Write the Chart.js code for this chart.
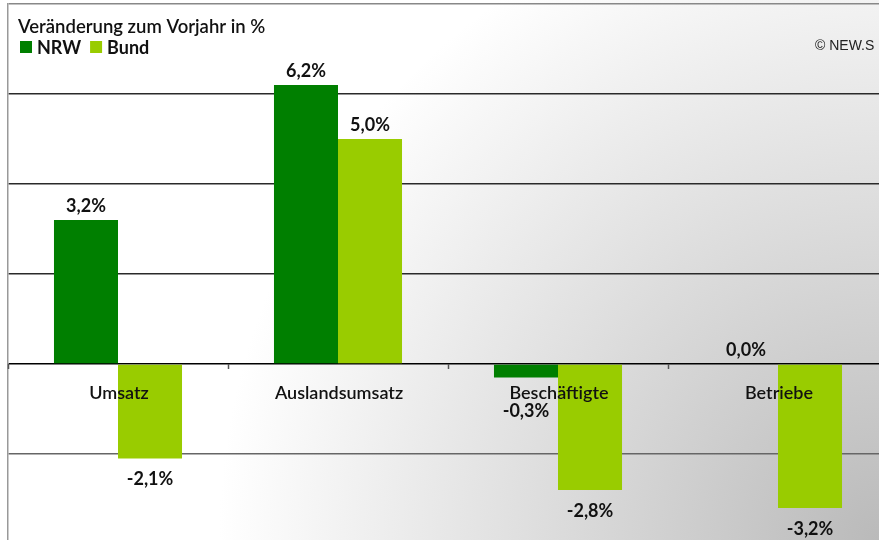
<!DOCTYPE html>
<html>
<head>
<meta charset="utf-8">
<script src="https://cdn.jsdelivr.net/npm/chart.js@4"></script>
<style>
  html, body { margin: 0; padding: 0; overflow: hidden; background: #fff; }
  #wrap { position: absolute; left: 0; top: 0; width: 888px; height: 545px; }
</style>
</head>
<body>
<div id="wrap"><canvas id="chart"></canvas></div>
<script>
const categories = ["Umsatz", "Auslandsumsatz", "Beschäftigte", "Betriebe"];
const nrwValues = [3.2, 6.2, -0.3, 0.0];
const bundValues = [-2.1, 5.0, -2.8, -3.2];
const seriesNames = ["NRW", "Bund"];
const chartTitle = "Veränderung zum Vorjahr in %";
const credit = "© NEW.S";

const FONT = "Lato, 'Open Sans', sans-serif";
const fmt = v => v.toFixed(1).replace(".", ",") + "%";

// Background: white top-left fading to grey bottom-right
const backgroundPlugin = {
  id: "bg",
  beforeDraw(chart) {
    const ctx = chart.ctx;
    ctx.save();
    ctx.fillStyle = "#fff";
    ctx.fillRect(0, 0, chart.width, chart.height);
    const g = ctx.createRadialGradient(879, 540, 0, 879, 540, 660);
    g.addColorStop(0, "#bababa");
    g.addColorStop(1, "#ffffff");
    ctx.fillStyle = g;
    ctx.fillRect(0, 0, chart.width, chart.height);
    ctx.restore();
  }
};

// Value labels, category labels and tick marks on the zero line
const labelsPlugin = {
  id: "labels",
  afterDatasetsDraw(chart) {
    const ctx = chart.ctx;
    const x = chart.scales.x;
    const zeroY = chart.scales.y.getPixelForValue(0);
    ctx.save();

    ctx.strokeStyle = "#555";
    ctx.lineWidth = 1.5;
    for (let i = 0; i < categories.length; i++) {
      const bx = Math.round(x.getPixelForValue(i) - x.width / categories.length / 2) + 0.5;
      ctx.beginPath();
      ctx.moveTo(bx, zeroY);
      ctx.lineTo(bx, zeroY + 5);
      ctx.stroke();
    }

    ctx.fillStyle = "#111";
    ctx.textAlign = "center";
    ctx.textBaseline = "middle";
    ctx.font = "600 18px " + FONT;
    categories.forEach((c, i) => {
      ctx.fillText(c, x.getPixelForValue(i) + 1, zeroY + 29);
    });

    ctx.font = "bold 18px " + FONT;
    chart.data.datasets.forEach((ds, di) => {
      chart.getDatasetMeta(di).data.forEach((el, i) => {
        const v = ds.data[i];
        let ty;
        if (v >= 0) ty = el.y - 14;
        else ty = Math.max(el.y + 21, zeroY + 47);
        ctx.fillText(fmt(v), el.x, ty);
      });
    });
    ctx.restore();
  },
  afterDraw(chart) {
    const ctx = chart.ctx;
    ctx.save();
    ctx.fillStyle = "#111";
    ctx.textBaseline = "middle";
    ctx.textAlign = "left";
    ctx.font = "600 18.5px " + FONT;
    ctx.fillText(chartTitle, 18, 27);

    ctx.font = "bold 18px " + FONT;
    let lx = 20;
    chart.data.datasets.forEach(ds => {
      ctx.fillStyle = ds.backgroundColor;
      ctx.fillRect(lx, 41, 12, 12);
      ctx.fillStyle = "#111";
      ctx.fillText(ds.label, lx + 17, 48);
      lx += 17 + ctx.measureText(ds.label).width + 9;
    });

    ctx.font = "14px 'Liberation Sans', Arial, sans-serif";
    ctx.fillStyle = "#222";
    ctx.fillText(credit, 815, 46);
    ctx.restore();
  }
};

new Chart(document.getElementById("chart"), {
  type: "bar",
  data: {
    labels: categories,
    datasets: [
      { label: seriesNames[0], data: nrwValues, backgroundColor: "#007f00" },
      { label: seriesNames[1], data: bundValues, backgroundColor: "#99cc00" }
    ]
  },
  options: {
    responsive: true,
    maintainAspectRatio: false,
    animation: false,
    layout: { padding: { left: 8, top: 4, bottom: 1, right: 0 } },
    datasets: { bar: { categoryPercentage: 0.582, barPercentage: 1.0 } },
    plugins: { legend: { display: false }, tooltip: { enabled: false } },
    scales: {
      x: { display: false },
      y: {
        min: -4,
        max: 8,
        ticks: { display: false, stepSize: 2 },
        grid: {
          drawTicks: false,
          lineWidth: 1.5,
          color: ctx => {
            const v = ctx.tick ? ctx.tick.value : null;
            if (v === 0) return "#000";
            if (v === 8) return "#888";
            if (v === -2) return "#666";
            return "#2a2a2a";
          }
        },
        border: { display: true, color: "#999", width: 1.5 }
      }
    }
  },
  plugins: [backgroundPlugin, labelsPlugin]
});
</script>
</body>
</html>
